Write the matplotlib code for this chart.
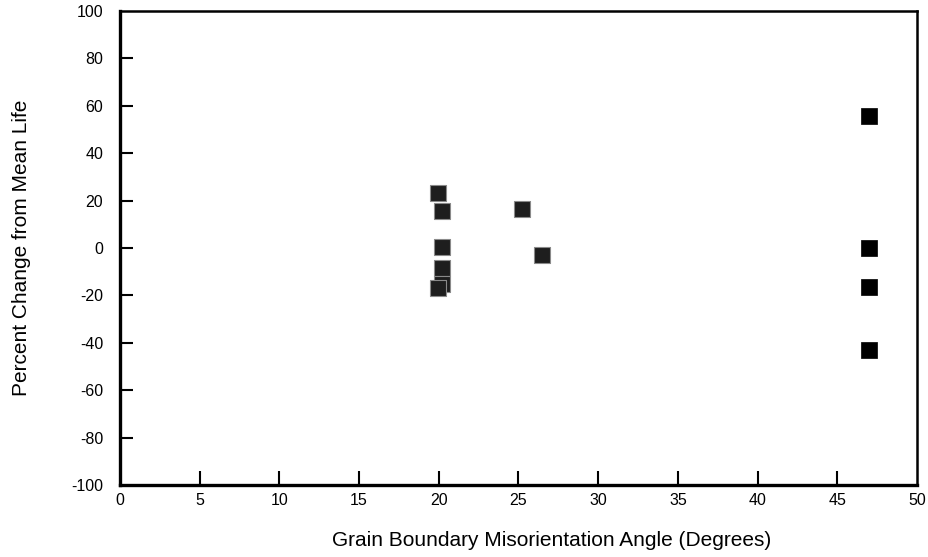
import matplotlib.pyplot as plt

# misorientation angle (deg) and percent change from mean life
angle_mid = [19.95, 20.2, 20.2, 20.2, 20.2, 19.95, 25.2, 26.5]
change_mid = [23.3, 15.5, 0.5, -8.3, -15.3, -16.7, 16.5, -2.8]
angle_high = [47.0, 47.0, 47.0, 47.0]
change_high = [55.7, 0.1, -16.5, -43.1]

x_ticks = [0, 5, 10, 15, 20, 25, 30, 35, 40, 45, 50]
y_ticks = [-100, -80, -60, -40, -20, 0, 20, 40, 60, 80, 100]

plt.rcParams["font.family"] = ["Liberation Sans", "DejaVu Sans"]
plt.rcParams["axes.unicode_minus"] = False

fig = plt.figure(figsize=(9.29, 5.57), dpi=100)
ax = fig.add_axes([120 / 929, 1 - 485 / 557, 797 / 929, 474 / 557])

ax.scatter(angle_mid, change_mid, marker="s", s=11 ** 2, c="#1e1e1e",
           edgecolors="#8a8a8a", linewidths=0.8, zorder=3)
ax.scatter(angle_high, change_high, marker="s", s=11 ** 2, c="black",
           edgecolors="black", linewidths=0.5, zorder=3)

ax.set_xlim(0, 50)
ax.set_ylim(-100, 100)
ax.set_xticks(x_ticks)
ax.set_yticks(y_ticks)
ax.tick_params(axis="y", direction="in", length=9.5, width=1.5, labelsize=11.5, pad=12)
ax.tick_params(axis="x", direction="in", length=10, width=1.5, labelsize=11.5, pad=6)
# end ticks sit on the spines, hide their marks
for t in [ax.xaxis.get_major_ticks()[0], ax.xaxis.get_major_ticks()[-1],
          ax.yaxis.get_major_ticks()[0], ax.yaxis.get_major_ticks()[-1]]:
    t.tick1line.set_visible(False)

for side in ["left", "bottom"]:
    ax.spines[side].set_linewidth(2.4)
for side in ["top", "right"]:
    ax.spines[side].set_linewidth(1.8)

ax.set_xlabel("Grain Boundary Misorientation Angle (Degrees)", fontsize=15)
ax.set_ylabel("Percent Change from Mean Life", fontsize=15)
ax.xaxis.set_label_coords(0.541, -0.097)
ax.yaxis.set_label_coords(-0.112, 0.5)

fig.savefig("out.png", dpi=100)
